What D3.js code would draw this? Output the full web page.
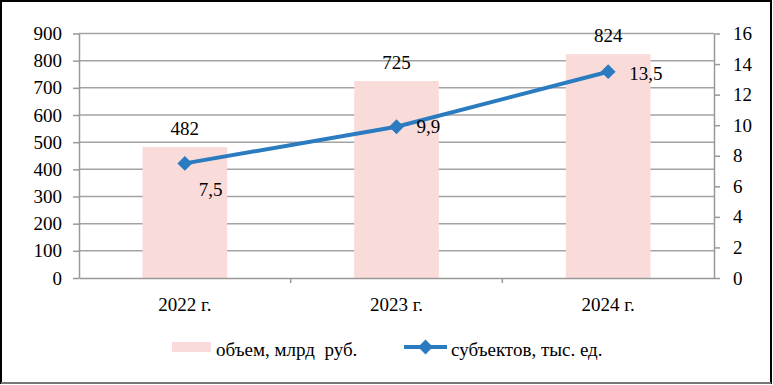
<!DOCTYPE html>
<html>
<head>
<meta charset="utf-8">
<script src="https://cdn.jsdelivr.net/npm/d3@7"></script>
<style>
	body { margin: 0; background: #fff; }
	svg, svg text { font-family: "Liberation Serif", "Times New Roman", serif !important; fill: #000; }
</style>
</head>
<body>
<div id="chart"></div>
<script>
// data
const years = ['2022 г.', '2023 г.', '2024 г.'];
const volume = [482, 725, 824];          // объем, млрд руб.
const subjects = [7.5, 9.9, 13.5];       // субъектов, тыс. ед.
const leftTicks = [0, 100, 200, 300, 400, 500, 600, 700, 800, 900];
const rightTicks = [0, 2, 4, 6, 8, 10, 12, 14, 16];

const W = 773, H = 385;
const margin = { top: 33.5, right: 59, bottom: 107, left: 79 };
const fs = '19px';
const fmt = d => String(d).replace('.', ',');

const svg = d3.select('#chart').append('svg').attr('width', W).attr('height', H);

// frame
svg.append('rect').attr('x', 1).attr('y', 1).attr('width', W - 3).attr('height', H - 3)
	.attr('fill', '#fff').attr('stroke', '#000').attr('stroke-width', 2);
svg.append('line').attr('x1', 1).attr('x2', W - 2).attr('y1', H - 2).attr('y2', H - 2)
	.attr('stroke', '#777').attr('stroke-width', 2);

const x = d3.scaleBand().domain(years).range([margin.left, W - margin.right]);
const yL = d3.scaleLinear().domain([0, 900]).range([H - margin.bottom, margin.top]);
const yR = d3.scaleLinear().domain([0, 16]).range([H - margin.bottom, margin.top]);

// gridlines
svg.append('g').selectAll('line').data(leftTicks.slice(1)).enter().append('line')
	.attr('x1', margin.left).attr('x2', W - margin.right)
	.attr('y1', d => yL(d)).attr('y2', d => yL(d))
	.attr('stroke', '#a3a3a3').attr('stroke-width', 1.5);

// bars
const barW = x.bandwidth() * 0.4;
svg.append('g').selectAll('rect').data(volume).enter().append('rect')
	.attr('x', (d, i) => x(years[i]) + x.bandwidth() / 2 - barW / 2)
	.attr('y', d => yL(d))
	.attr('width', barW)
	.attr('height', d => yL(0) - yL(d))
	.attr('fill', '#f9dcda');

// axes
const axisStyle = g => {
	g.attr('font-family', null).attr('font-size', null);
	g.select('.domain').attr('stroke', '#999').attr('stroke-width', 1.5);
	g.selectAll('.tick line').attr('stroke', '#999').attr('stroke-width', 1.5);
	g.selectAll('.tick text').style('font-size', fs);
};

svg.append('g').attr('transform', `translate(${margin.left},0)`)
	.call(d3.axisLeft(yL).tickValues(leftTicks).tickSize(6).tickSizeOuter(0).tickPadding(11))
	.call(axisStyle);

svg.append('g').attr('transform', `translate(${W - margin.right},0)`)
	.call(d3.axisRight(yR).tickValues(rightTicks).tickSize(6).tickSizeOuter(0).tickPadding(13))
	.call(axisStyle);

const xAxis = svg.append('g').attr('transform', `translate(0,${yL(0)})`)
	.call(d3.axisBottom(x).tickSize(0).tickPadding(20))
	.call(axisStyle);
// ticks between categories
xAxis.selectAll('.sep').data(years.slice(1)).enter().append('line')
	.attr('x1', d => x(d)).attr('x2', d => x(d)).attr('y1', 0).attr('y2', 5)
	.attr('stroke', '#999').attr('stroke-width', 1.5);

// bar labels
svg.append('g').selectAll('text').data(volume).enter().append('text')
	.attr('x', (d, i) => x(years[i]) + x.bandwidth() / 2)
	.attr('y', d => yL(d) - 12)
	.attr('text-anchor', 'middle')
	.style('font-size', fs)
	.text(d => d);

// line
const cx = i => x(years[i]) + x.bandwidth() / 2;
const line = d3.line().x((d, i) => cx(i)).y(d => yR(d));
svg.append('path').datum(subjects).attr('d', line)
	.attr('fill', 'none').attr('stroke', '#2a7bbf').attr('stroke-width', 4);

const diamond = d3.symbol().type(d3.symbolSquare).size(110);
svg.append('g').selectAll('path').data(subjects).enter().append('path')
	.attr('d', diamond)
	.attr('transform', (d, i) => `translate(${cx(i)},${yR(d)}) rotate(45)`)
	.attr('fill', '#2a7bbf');

// line labels
const lblOff = [[14, 33], [20, 6], [21, 8]];
svg.append('g').selectAll('text').data(subjects).enter().append('text')
	.attr('x', (d, i) => cx(i) + lblOff[i][0])
	.attr('y', (d, i) => yR(d) + lblOff[i][1])
	.style('font-size', fs)
	.text(d => fmt(d));

// legend
const lg = svg.append('g');
lg.append('rect').attr('x', 172).attr('y', 342).attr('width', 39).attr('height', 10).attr('fill', '#f9dcda');
lg.append('text').attr('x', 216).attr('y', 356).style('font-size', fs).style('white-space', 'pre')
	.text('объем, млрд  руб.');
lg.append('line').attr('x1', 404).attr('x2', 447).attr('y1', 347).attr('y2', 347)
	.attr('stroke', '#2a7bbf').attr('stroke-width', 4);
lg.append('path').attr('d', diamond).attr('transform', 'translate(425.5,347) rotate(45)').attr('fill', '#2a7bbf');
lg.append('text').attr('x', 451).attr('y', 356).style('font-size', fs).text('субъектов, тыс. ед.');
</script>
</body>
</html>
